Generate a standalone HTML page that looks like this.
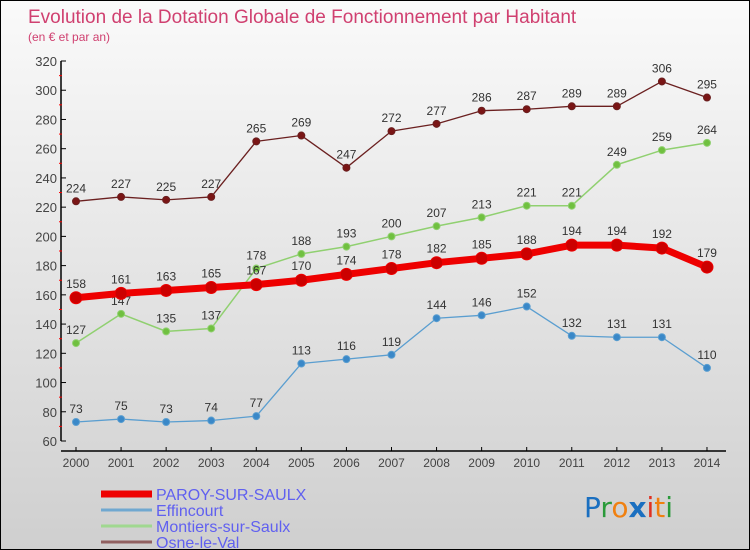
<!DOCTYPE html>
<html><head><meta charset="utf-8"><style>
body{margin:0}
#c{width:750px;height:550px;position:relative;overflow:hidden;font-family:"Liberation Sans",sans-serif;background:linear-gradient(#fafafa,#cfcfcf);box-sizing:border-box;border:1px solid #000}
</style></head><body>
<div id="c">
<svg width="750" height="550" id="s">
<text x="27" y="22" font-size="19" fill="#d04070">Evolution de la Dotation Globale de Fonctionnement par Habitant</text>
<text x="27" y="40" font-size="12" fill="#d04070">(en € et par an)</text>
<g id="axes"></g><g id="series"></g><g id="legend"></g>
<text x="583" y="516" font-size="28" font-family="DejaVu Sans, sans-serif"><tspan fill="#1a6fc0">P</tspan><tspan fill="#2a9a3a">r</tspan><tspan fill="#f08010">o</tspan><tspan fill="#1a6fc0" font-weight="bold">x</tspan><tspan fill="#e03020">i</tspan><tspan fill="#f08010">t</tspan><tspan fill="#2a9a3a">i</tspan></text>
</svg></div>
<script>
const years=[2000,2001,2002,2003,2004,2005,2006,2007,2008,2009,2010,2011,2012,2013,2014];
const yTicks=[60,80,100,120,140,160,180,200,220,240,260,280,300,320];
const paroy=[158,161,163,165,167,170,174,178,182,185,188,194,194,192,179];
const effincourt=[73,75,73,74,77,113,116,119,144,146,152,132,131,131,110];
const montiers=[127,147,135,137,178,188,193,200,207,213,221,221,249,259,264];
const osne=[224,227,225,227,265,269,247,272,277,286,287,289,289,306,295];
const NS="http://www.w3.org/2000/svg";
const x=i=>75+i*45.07;
const y=v=>440-(v-60)*380/260;
function mk(t,a,p){const e=document.createElementNS(NS,t);for(const k in a)e.setAttribute(k,a[k]);p.appendChild(e);return e;}
const ax=document.getElementById('axes');
let l=mk('line',{x1:60,y1:60,x2:60,y2:440,stroke:'#000','stroke-width':1.5},ax);


l=mk('line',{x1:60,y1:450,x2:725,y2:450,stroke:'#000','stroke-width':1.5},ax);


yTicks.forEach((v,i)=>{
 mk('line',{x1:60,y1:y(v),x2:65,y2:y(v),stroke:'#000'},ax);
 if(i<yTicks.length-1)mk('line',{x1:58,y1:y(v+10),x2:61,y2:y(v+10),stroke:'#f00'},ax);
 const t=mk('text',{x:56,y:y(v)+5,'font-size':13,fill:'#444','text-anchor':'end'},ax);
 t.textContent=v;
 
 
});
years.forEach((yr,i)=>{
 mk('line',{x1:x(i),y1:446,x2:x(i),y2:450,stroke:'#000'},ax);
 const t=mk('text',{x:x(i),y:466,'font-size':12,fill:'#444','text-anchor':'middle'},ax);
 t.textContent=yr;
 
 
});
const sg=document.getElementById('series');
function series(data,name,color,dot,w,r,labelOff){
 const g=mk('g',{},sg);
 
 
 const pts=data.map((v,i)=>x(i)+','+y(v)).join(' ');
 mk('polyline',{points:pts,fill:'none',stroke:color,'stroke-width':w,'stroke-linejoin':'round'},g);
 data.forEach((v,i)=>{
  const c=mk('circle',{cx:x(i),cy:y(v),r:r,fill:dot,stroke:color,'stroke-width':1},g);
  
  
  const t=mk('text',{x:x(i),y:y(v)-labelOff,'font-size':12,fill:'#333','text-anchor':'middle'},g);
  t.textContent=v;
  
  
 });
}
series(osne,'osne-le-val','#6b2020','#7a1515',1.3,3.5,9);
series(montiers,'montiers-sur-saulx','#90d070','#70c040',1.5,3.5,9);
series(effincourt,'effincourt','#5a9ed0','#3a88c8',1.3,3.5,9);
series(paroy,'paroy-sur-saulx','#ee0000','#cc0000',7,6,10);
const lg=document.getElementById('legend');
[['PAROY-SUR-SAULX','#ee0000',7],['Effincourt','#70a8d0',3],['Montiers-sur-Saulx','#a0d890',3],['Osne-le-Val','#906060',3]].forEach((e,i)=>{
 const yy=493+i*16;
 const g=mk('g',{},lg);
 
 
 mk('line',{x1:100,y1:yy,x2:151,y2:yy,stroke:e[1],'stroke-width':e[2]},g);
 const t=mk('text',{x:155,y:yy+6,'font-size':16,fill:'#6060f0'},g);
 t.textContent=e[0];
});
</script>
</body></html>
